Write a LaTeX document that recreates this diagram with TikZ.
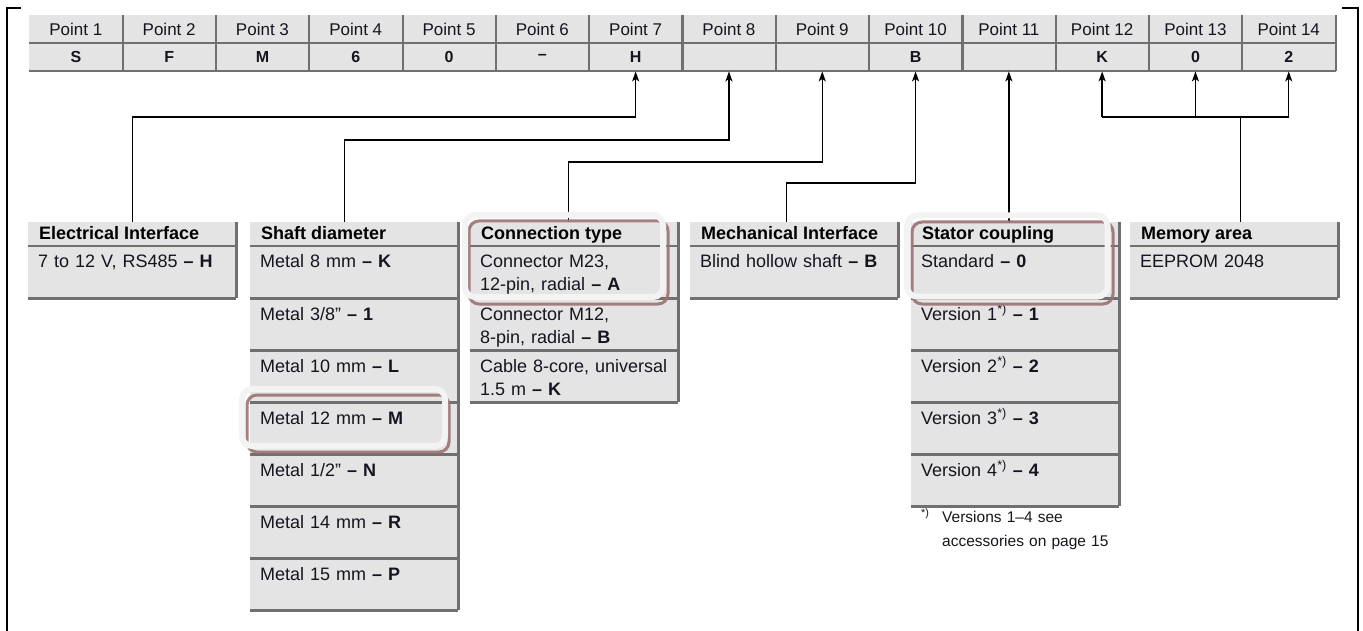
\documentclass[tikz,border=0pt]{standalone}
\usepackage{fontspec}
\setmainfont{Liberation Sans}
\usetikzlibrary{arrows.meta,calc}
\definecolor{cellfill}{HTML}{E4E4E4}
\definecolor{celledge}{HTML}{707070}
\definecolor{hlbrown}{HTML}{9C7272}
\definecolor{hlwhite}{HTML}{F3F3F3}
\definecolor{inkc}{HTML}{15151F}
\tikzset{
  frameline/.style={draw=black, line width=2pt},
  cellbg/.style={fill=cellfill, draw=none, inner sep=0pt, anchor=north west, text=inkc},
  celledgeline/.style={draw=celledge, line width=2.2pt},
  conn/.style={draw=black, line width=1.4pt, -{Stealth[length=10pt,width=7pt,inset=2.5pt]}},
  plainline/.style={draw=black, line width=1.4pt},
  txt/.style={inner sep=0pt, font=\fontsize{18}{23}\selectfont, text=inkc},
  hdr/.style={inner sep=0pt, font=\fontsize{18}{23}\selectfont\bfseries, text=black},
  foot/.style={inner sep=0pt, font=\fontsize{15.5}{24}\selectfont, text=inkc},
  hlw/.style={draw=hlwhite, line width=6pt, rounded corners=10pt},
  hlb/.style={draw=hlbrown, line width=3pt, rounded corners=10pt, draw opacity=0.9},
}
% #1 id, #2 x-left, #3 number of rows, #4 header, #5 rows
\newcommand\optbox[5]{%
  \node[cellbg, minimum width=208pt, minimum height=24pt] (#1h) at (#2,222) {};
  \node[hdr, anchor=base west] (#1ht) at ([shift={(11,18)}]#1h.north west) {#4};
  \foreach \k/\t in {#5}{
    \node[cellbg, minimum width=208pt, minimum height=52pt] (#1r\k) at (#2,{246+52*(\k-1)}) {};
    \node[txt, anchor=base west, text width=196pt, align=left] (#1t\k) at ([shift={(10,22)}]#1r\k.north west) {\t};
  }
  \foreach \k/\t in {#5}{
    \draw[celledgeline] (#1r\k.south west) -- (#1r\k.south east);
  }
  \draw[celledgeline] (#1h.south west) -- (#1h.south east);
  \draw[celledgeline] (#1h.north east) -- (#1r#3.south east);
}
\begin{document}
\begin{tikzpicture}[x=1pt,y=-1pt]
\useasboundingbox (0,0) rectangle (1363,631);
% frame
\draw[frameline] (7,632) -- (7,8) -- (1358,8) -- (1358,632);
\fill[white] (21,2) rectangle (1342,15);
% top table
\foreach \i/\v in {1/S,2/F,3/M,4/6,5/0,6/–,7/H,8/{},9/{},10/B,11/{},12/K,13/0,14/2}{
  \node[cellbg, minimum width=93.3pt, minimum height=28pt, font=\fontsize{17}{20}\selectfont] (p\i) at ({29+93.3*(\i-1)},15) {Point \i};
  \node[cellbg, minimum width=93.3pt, minimum height=28pt, font=\fontsize{16}{20}\selectfont\bfseries] (v\i) at ({29+93.3*(\i-1)},43) {\v};
}
\foreach \i in {1,...,14}{
  \draw[celledgeline] (p\i.north east) -- (v\i.south east);
}
\draw[celledgeline] (p1.south west) -- (p14.south east);
\draw[celledgeline] (v1.south west) -- (v14.south east);
% option boxes
\optbox{elec}{28}{1}{Electrical Interface}{1/{7 to 12 V, RS485 \textbf{– H}}}
\optbox{shaft}{250}{7}{Shaft diameter}{1/{Metal 8 mm \textbf{– K}},2/{Metal 3/8" \textbf{– 1}},3/{Metal 10 mm \textbf{– L}},4/{Metal 12 mm \textbf{– M}},5/{Metal 1/2" \textbf{– N}},6/{Metal 14 mm \textbf{– R}},7/{Metal 15 mm \textbf{– P}}}
\optbox{con}{470}{3}{Connection type}{1/{Connector M23,\\12-pin, radial \textbf{– A}},2/{Connector M12,\\8-pin, radial \textbf{– B}},3/{Cable 8-core, universal\\1.5 m \textbf{– K}}}
\optbox{mech}{690}{1}{Mechanical Interface}{1/{Blind hollow shaft \textbf{– B}}}
\optbox{stat}{911}{5}{Stator coupling}{1/{Standard \textbf{– 0}},2/{Version 1\textsuperscript{*)} \textbf{– 1}},3/{Version 2\textsuperscript{*)} \textbf{– 2}},4/{Version 3\textsuperscript{*)} \textbf{– 3}},5/{Version 4\textsuperscript{*)} \textbf{– 4}}}
\optbox{mem}{1130}{1}{Memory area}{1/{EEPROM 2048}}
% footnote
\node[foot, anchor=base west] (fnm) at (921,522) {\textsuperscript{*)}};
\node[foot, anchor=base west, text width=180pt, align=left] (fnt) at (942,522) {Versions 1–4 see\\accessories on page 15};
% connectors
\coordinate (hE) at (0,117);
\coordinate (hS) at (0,140);
\coordinate (hC) at (0,162);
\coordinate (hM) at (0,183);
\coordinate (sE) at (elech.north);
\coordinate (sS) at ([xshift=-10pt]shafth.north);
\coordinate (sC) at ([xshift=-6pt]conh.north);
\coordinate (sM) at ([xshift=-8pt]mechh.north);
\coordinate (sY) at ([xshift=6pt]memh.north);
\draw[conn] (sE) -- (sE |- hE) -| (v7.south);
\draw[conn] (sS) -- (sS |- hS) -| (v8.south);
\draw[conn] (sC) -- (sC |- hC) -| (v9.south);
\draw[conn] (sM) -- (sM |- hM) -| (v10.south);
\draw[conn] (v11.south |- stath.north) -- (v11.south);
\draw[plainline] (sY) -- (sY |- hE);
\draw[plainline] (v12.south |- hE) -- (v14.south |- hE);
\draw[conn] (v12.south |- hE) -- (v12.south);
\draw[conn] (v13.south |- hE) -- (v13.south);
\draw[conn] (v14.south |- hE) -- (v14.south);
% highlights
\draw[hlb] (469,221) rectangle (668,304);
\draw[hlw] (465,215) rectangle (663,297);
\draw[hlb] (247,395) rectangle (449,452);
\draw[hlw] (242,389) rectangle (445,446);
\draw[hlb] (912,222) rectangle (1113,304);
\draw[hlw] (907,215.5) rectangle (1107.5,296.5);
\end{tikzpicture}
\end{document}
